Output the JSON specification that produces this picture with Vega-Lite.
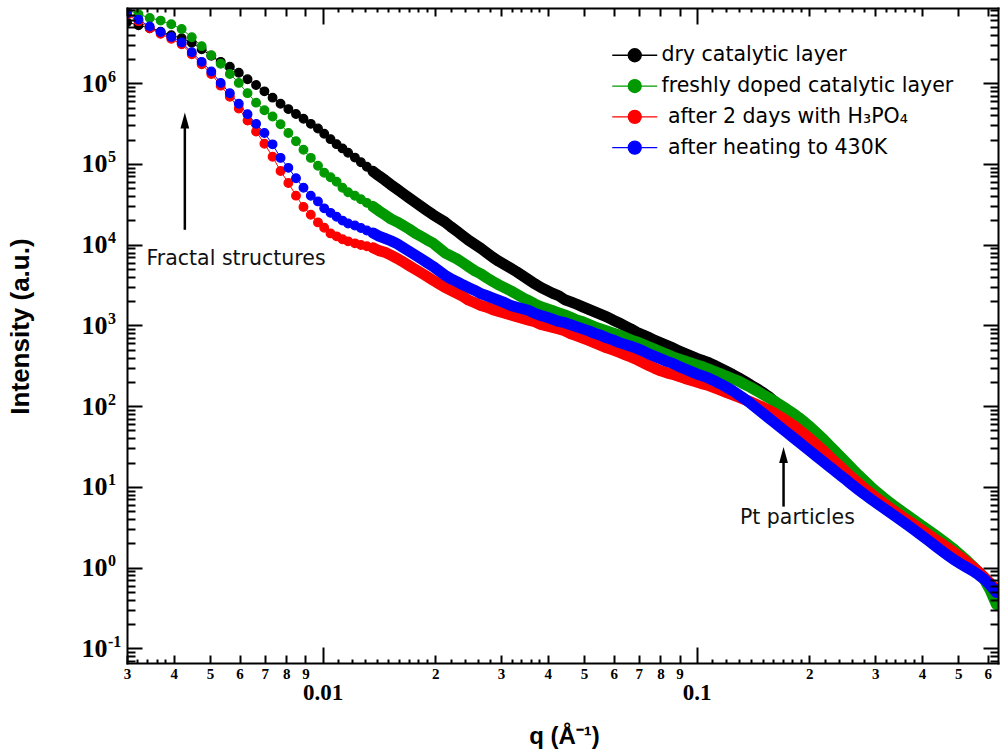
{
  "$schema": "https://vega.github.io/schema/vega-lite/v6.json",
  "width": 871,
  "height": 655,
  "autosize": {"type": "none"},
  "padding": {"left": 127, "top": 8, "right": 2, "bottom": 91},
  "background": "white",
  "config": {
    "view": {"stroke": null},
    "axis": {"grid": false, "domainColor": "black", "domainWidth": 2, "tickColor": "black", "tickWidth": 2, "labelColor": "black", "titleColor": "black", "labelFlush": false, "labelOverlap": false, "domainCap": "square"}
  },
  "datasets": {
    "saxs": [
      {"q":0.003,"a":5.70e6,"b":8.14e6,"c":7.06e6,"d":7.37e6},
      {"q":0.00322,"a":5.23e6,"b":7.16e6,"c":5.88e6,"d":6.14e6},
      {"q":0.00345,"a":4.80e6,"b":6.45e6,"c":4.80e6,"d":5.04e6},
      {"q":0.00369,"a":4.35e6,"b":5.97e6,"c":4.09e6,"d":4.30e6},
      {"q":0.00394,"a":3.93e6,"b":5.37e6,"c":3.55e6,"d":3.74e6},
      {"q":0.0042,"a":3.61e6,"b":4.70e6,"c":3.03e6,"d":3.19e6},
      {"q":0.00447,"a":3.18e6,"b":3.71e6,"c":2.29e6,"d":2.42e6},
      {"q":0.00475,"a":2.64e6,"b":2.88e6,"c":1.72e6,"d":1.84e6},
      {"q":0.00504,"a":2.19e6,"b":2.22e6,"c":1.30e6,"d":1.40e6},
      {"q":0.00534,"a":1.84e6,"b":1.74e6,"c":9.34e5,"d":1.01e6},
      {"q":0.00565,"a":1.60e6,"b":1.30e6,"c":6.80e5,"d":7.52e5},
      {"q":0.00597,"a":1.35e6,"b":1.01e6,"c":4.86e5,"d":5.57e5},
      {"q":0.0063,"a":1.12e6,"b":7.54e5,"c":3.46e5,"d":4.14e5},
      {"q":0.00664,"a":9.50e5,"b":5.75e5,"c":2.53e5,"d":3.14e5},
      {"q":0.00699,"a":7.94e5,"b":4.63e5,"c":1.78e5,"d":2.42e5},
      {"q":0.00735,"a":6.63e5,"b":3.87e5,"c":1.23e5,"d":1.75e5},
      {"q":0.00772,"a":5.57e5,"b":3.10e5,"c":8.17e4,"d":1.19e5},
      {"q":0.0081,"a":4.78e5,"b":2.42e5,"c":5.82e4,"d":8.95e4},
      {"q":0.00849,"a":4.16e5,"b":1.91e5,"c":4.05e4,"d":6.65e4},
      {"q":0.00889,"a":3.63e5,"b":1.50e5,"c":2.94e4,"d":5.07e4},
      {"q":0.0093,"a":3.14e5,"b":1.19e5,"c":2.35e4,"d":4.04e4},
      {"q":0.00972,"a":2.75e5,"b":9.50e4,"c":1.89e4,"d":3.44e4},
      {"q":0.0101,"a":2.37e5,"b":7.78e4,"c":1.62e4,"d":2.82e4},
      {"q":0.0105,"a":2.03e5,"b":6.84e4,"c":1.38e4,"d":2.48e4},
      {"q":0.0109,"a":1.76e5,"b":6.02e4,"c":1.27e4,"d":2.22e4},
      {"q":0.0113,"a":1.56e5,"b":5.07e4,"c":1.17e4,"d":1.99e4},
      {"q":0.0117,"a":1.38e5,"b":4.46e4,"c":1.10e4,"d":1.83e4},
      {"q":0.0122,"a":1.20e5,"b":4.04e4,"c":1.04e4,"d":1.73e4},
      {"q":0.01266,"a":1.05e5,"b":3.65e4,"c":9.91e3,"d":1.61e4},
      {"q":0.01313,"a":9.23e4,"b":3.30e4,"c":9.55e3,"d":1.50e4},
      {"q":0.01363,"a":8.12e4,"b":2.97e4,"c":9.15e3,"d":1.40e4},
      {"q":0.01414,"a":7.14e4,"b":2.63e4,"c":8.45e3,"d":1.28e4},
      {"q":0.01467,"a":6.32e4,"b":2.35e4,"c":8.05e3,"d":1.20e4},
      {"q":0.01522,"a":5.54e4,"b":2.09e4,"c":7.43e3,"d":1.12e4},
      {"q":0.0158,"a":4.89e4,"b":1.92e4,"c":6.78e3,"d":1.03e4},
      {"q":0.01639,"a":4.32e4,"b":1.74e4,"c":6.14e3,"d":9.26e3},
      {"q":0.01701,"a":3.82e4,"b":1.57e4,"c":5.54e3,"d":8.33e3},
      {"q":0.01765,"a":3.39e4,"b":1.40e4,"c":4.99e3,"d":7.49e3},
      {"q":0.01831,"a":3.00e4,"b":1.27e4,"c":4.51e3,"d":6.71e3},
      {"q":0.019,"a":2.66e4,"b":1.15e4,"c":4.06e3,"d":6.02e3},
      {"q":0.01971,"a":2.36e4,"b":1.05e4,"c":3.64e3,"d":5.40e3},
      {"q":0.02046,"a":2.12e4,"b":9.15e3,"c":3.28e3,"d":4.76e3},
      {"q":0.02123,"a":1.91e4,"b":7.94e3,"c":2.96e3,"d":4.19e3},
      {"q":0.02202,"a":1.67e4,"b":7.29e3,"c":2.72e3,"d":3.78e3},
      {"q":0.02285,"a":1.47e4,"b":6.69e3,"c":2.50e3,"d":3.49e3},
      {"q":0.02371,"a":1.29e4,"b":5.97e3,"c":2.29e3,"d":3.19e3},
      {"q":0.0246,"a":1.13e4,"b":5.32e3,"c":2.05e3,"d":2.94e3},
      {"q":0.02553,"a":1.01e4,"b":4.75e3,"c":1.91e3,"d":2.71e3},
      {"q":0.02649,"a":9.02e3,"b":4.36e3,"c":1.77e3,"d":2.48e3},
      {"q":0.02748,"a":7.94e3,"b":3.89e3,"c":1.68e3,"d":2.33e3},
      {"q":0.02852,"a":6.98e3,"b":3.50e3,"c":1.57e3,"d":2.18e3},
      {"q":0.02959,"a":6.23e3,"b":3.18e3,"c":1.49e3,"d":2.04e3},
      {"q":0.0307,"a":5.63e3,"b":2.92e3,"c":1.42e3,"d":1.91e3},
      {"q":0.03186,"a":5.10e3,"b":2.68e3,"c":1.35e3,"d":1.77e3},
      {"q":0.03305,"a":4.61e3,"b":2.43e3,"c":1.28e3,"d":1.68e3},
      {"q":0.0343,"a":4.12e3,"b":2.20e3,"c":1.22e3,"d":1.61e3},
      {"q":0.03559,"a":3.67e3,"b":2.02e3,"c":1.16e3,"d":1.53e3},
      {"q":0.03692,"a":3.28e3,"b":1.85e3,"c":1.11e3,"d":1.41e3},
      {"q":0.03831,"a":2.96e3,"b":1.71e3,"c":1.03e3,"d":1.33e3},
      {"q":0.03975,"a":2.72e3,"b":1.61e3,"c":988,"d":1.26e3},
      {"q":0.04125,"a":2.50e3,"b":1.52e3,"c":944,"d":1.19e3},
      {"q":0.0428,"a":2.33e3,"b":1.43e3,"c":902,"d":1.12e3},
      {"q":0.04441,"a":2.08e3,"b":1.35e3,"c":857,"d":1.08e3},
      {"q":0.04608,"a":1.96e3,"b":1.26e3,"c":787,"d":1.02e3},
      {"q":0.04781,"a":1.83e3,"b":1.17e3,"c":743,"d":960},
      {"q":0.04961,"a":1.70e3,"b":1.11e3,"c":696,"d":907},
      {"q":0.05147,"a":1.58e3,"b":1.03e3,"c":652,"d":857},
      {"q":0.05341,"a":1.47e3,"b":960,"c":608,"d":798},
      {"q":0.05542,"a":1.37e3,"b":907,"c":567,"d":754},
      {"q":0.0575,"a":1.28e3,"b":857,"c":528,"d":702},
      {"q":0.05966,"a":1.17e3,"b":809,"c":498,"d":663},
      {"q":0.0619,"a":1.08e3,"b":764,"c":467,"d":617},
      {"q":0.06423,"a":988,"b":712,"c":436,"d":583},
      {"q":0.06665,"a":907,"b":663,"c":408,"d":551},
      {"q":0.06915,"a":821,"b":626,"c":378,"d":520},
      {"q":0.07175,"a":764,"b":583,"c":347,"d":484},
      {"q":0.07445,"a":712,"b":543,"c":318,"d":445},
      {"q":0.07725,"a":653,"b":505,"c":294,"d":414},
      {"q":0.08016,"a":608,"b":471,"c":274,"d":385},
      {"q":0.08317,"a":567,"b":438,"c":259,"d":359},
      {"q":0.0863,"a":528,"b":408,"c":248,"d":339},
      {"q":0.08954,"a":484,"b":385,"c":234,"d":311},
      {"q":0.09291,"a":451,"b":364,"c":221,"d":290},
      {"q":0.0964,"a":420,"b":344,"c":210,"d":270},
      {"q":0.1,"a":391,"b":325,"c":199,"d":251},
      {"q":0.1038,"a":369,"b":307,"c":189,"d":237},
      {"q":0.1077,"a":347,"b":288,"c":180,"d":222},
      {"q":0.1117,"a":319,"b":269,"c":169,"d":205},
      {"q":0.1159,"a":293,"b":251,"c":158,"d":188},
      {"q":0.1203,"a":269,"b":234,"c":147,"d":171},
      {"q":0.1248,"a":247,"b":218,"c":138,"d":155},
      {"q":0.1295,"a":225,"b":204,"c":129,"d":138},
      {"q":0.1343,"a":204,"b":186,"c":121,"d":123},
      {"q":0.1394,"a":183,"b":171,"c":113,"d":108},
      {"q":0.1446,"a":166,"b":155,"c":105,"d":94.1},
      {"q":0.1501,"a":148,"b":140,"c":97.4,"d":82.1},
      {"q":0.1557,"a":132,"b":127,"c":89.4,"d":71.6},
      {"q":0.1616,"a":114,"b":115,"c":81.4,"d":62.4},
      {"q":0.1676,"a":99,"b":103,"c":73.6,"d":54.4},
      {"q":0.1739,"a":86,"b":92.3,"c":65.9,"d":47.5},
      {"q":0.1805,"a":75.5,"b":82.1,"c":58.5,"d":41.4},
      {"q":0.1873,"a":66.8,"b":72.6,"c":51.4,"d":36.1},
      {"q":0.1943,"a":58.4,"b":63.5,"c":44.8,"d":31.5},
      {"q":0.2016,"a":50.5,"b":54.9,"c":38.9,"d":27.4},
      {"q":0.2092,"a":43.1,"b":46.9,"c":33.4,"d":23.9},
      {"q":0.2171,"a":36.6,"b":39.8,"c":28.6,"d":20.9},
      {"q":0.2252,"a":30.8,"b":33.5,"c":24.3,"d":18.2},
      {"q":0.2337,"a":25.9,"b":28.2,"c":20.7,"d":15.9},
      {"q":0.2425,"a":21.7,"b":23.6,"c":17.7,"d":13.8},
      {"q":0.2516,"a":18.2,"b":19.8,"c":15.1,"d":12.1},
      {"q":0.261,"a":15.3,"b":16.6,"c":12.9,"d":10.5},
      {"q":0.2708,"a":12.9,"b":14.0,"c":11.1,"d":9.20},
      {"q":0.281,"a":10.9,"b":11.9,"c":9.60,"d":8.07},
      {"q":0.2916,"a":9.29,"b":10.1,"c":8.35,"d":7.12},
      {"q":0.3025,"a":8.0,"b":8.69,"c":7.30,"d":6.30},
      {"q":0.3139,"a":6.94,"b":7.54,"c":6.42,"d":5.58},
      {"q":0.3257,"a":6.06,"b":6.59,"c":5.66,"d":4.95},
      {"q":0.338,"a":5.32,"b":5.78,"c":5.01,"d":4.39},
      {"q":0.3507,"a":4.69,"b":5.10,"c":4.44,"d":3.90},
      {"q":0.3639,"a":4.15,"b":4.51,"c":3.94,"d":3.45},
      {"q":0.3775,"a":3.68,"b":4.00,"c":3.51,"d":3.04},
      {"q":0.3917,"a":3.27,"b":3.55,"c":3.11,"d":2.67},
      {"q":0.4064,"a":2.90,"b":3.15,"c":2.78,"d":2.35},
      {"q":0.4217,"a":2.56,"b":2.78,"c":2.47,"d":2.07},
      {"q":0.4376,"a":2.26,"b":2.46,"c":2.19,"d":1.81},
      {"q":0.454,"a":2.0,"b":2.17,"c":1.95,"d":1.59},
      {"q":0.4711,"a":1.76,"b":1.91,"c":1.73,"d":1.40},
      {"q":0.4888,"a":1.54,"b":1.67,"c":1.53,"d":1.24},
      {"q":0.5072,"a":1.32,"b":1.44,"c":1.35,"d":1.12},
      {"q":0.5262,"a":1.14,"b":1.24,"c":1.18,"d":1.01},
      {"q":0.546,"a":1.0,"b":1.05,"c":1.03,"d":0.915},
      {"q":0.5666,"a":0.85,"b":0.882,"c":0.889,"d":0.816},
      {"q":0.5879,"a":0.72,"b":0.706,"c":0.758,"d":0.716},
      {"q":0.61,"a":0.58,"b":0.518,"c":0.639,"d":0.603},
      {"q":0.6329,"a":0.47,"b":0.350,"c":0.529,"d":0.491}
    ],
    "notes": [
      {"q": 0.003383, "I": 6690, "label": "Fractal structures"},
      {"q": 0.1305, "I": 4.13, "label": "Pt particles"}
    ],
    "arrows": [
      {"q": 0.004283, "lo": 1.53e4, "hi": 3.46e5},
      {"q": 0.1707, "lo": 5.70, "hi": 24.9}
    ]
  },
  "resolve": {"axis": {"x": "independent", "y": "independent"}},
  "encoding": {
    "x": {"field": "q", "type": "quantitative", "scale": {"type": "log", "domain": [0.003, 0.639], "nice": false}, "axis": null},
    "y": {"field": "I", "type": "quantitative", "scale": {"type": "log", "domain": [0.0659, 8.55e6], "nice": false}, "axis": null}
  },
  "layer": [
    {
      "data": {"name": "saxs"},
      "transform": [{"fold": ["a", "b", "c", "d"], "as": ["s", "I"]}],
      "mark": {"type": "line", "strokeWidth": 1, "clip": true},
      "encoding": {
        "x": {"field": "q", "type": "quantitative", "scale": {"type": "log", "domain": [0.003, 0.639], "nice": false},
          "axis": {"orient": "bottom", "labels": false, "title": null, "domain": true, "ticks": true, "zindex": 3,
            "values": [0.003,0.0032,0.0034,0.0036,0.0038,0.004,0.005,0.006,0.007,0.008,0.009,0.01,0.011,0.012,0.013,0.014,0.015,0.016,0.017,0.018,0.019,0.02,0.022,0.024,0.026,0.028,0.03,0.032,0.034,0.036,0.038,0.04,0.05,0.06,0.07,0.08,0.09,0.1,0.11,0.12,0.13,0.14,0.15,0.16,0.17,0.18,0.19,0.2,0.22,0.24,0.26,0.28,0.3,0.32,0.34,0.36,0.38,0.4,0.5,0.6],
            "tickSize": {"condition": [
              {"test": "abs(log(datum.value)/LN10-round(log(datum.value)/LN10))<0.001", "value": -16},
              {"test": "abs(datum.value*pow(10,-floor(log(datum.value)/LN10+0.001))-round(datum.value*pow(10,-floor(log(datum.value)/LN10+0.001))))<0.01", "value": -8}
            ], "value": -4}}},
        "y": {"field": "I", "type": "quantitative", "scale": {"type": "log", "domain": [0.0659, 8.55e6], "nice": false},
          "axis": {"orient": "left", "labels": false, "title": null, "domain": true, "ticks": true, "zindex": 3,
            "values": [0.07,0.08,0.09,0.1,0.2,0.3,0.4,0.5,0.6,0.7,0.8,0.9,1,2,3,4,5,6,7,8,9,10,20,30,40,50,60,70,80,90,100,200,300,400,500,600,700,800,900,1000,2000,3000,4000,5000,6000,7000,8000,9000,10000,20000,30000,40000,50000,60000,70000,80000,90000,100000,200000,300000,400000,500000,600000,700000,800000,900000,1000000,2000000,3000000,4000000,5000000,6000000,7000000,8000000],
            "tickSize": {"condition": {"test": "abs(log(datum.value)/LN10-round(log(datum.value)/LN10))<0.001", "value": -15}, "value": -8}}},
        "stroke": {"field": "s", "type": "nominal", "scale": {"domain": ["a", "b", "c", "d"], "range": ["#000000", "#009a00", "#ff0000", "#0000ff"]}}
      }
    },
    {
      "data": {"name": "saxs"},
      "transform": [{"fold": ["a"], "as": ["s", "I"]}, {"filter": "datum.q >= 0.0135"}],
      "mark": {"type": "line", "strokeWidth": 11, "strokeCap": "round", "strokeJoin": "round", "color": "#000000", "clip": true}
    },
    {
      "data": {"name": "saxs"},
      "transform": [{"fold": ["a"], "as": ["s", "I"]}],
      "mark": {"type": "point", "filled": true, "size": 74, "opacity": 1, "strokeWidth": 1.3, "clip": true},
      "encoding": {
        "x": {"field": "q", "type": "quantitative", "scale": {"type": "log", "domain": [0.003, 0.639], "nice": false},
          "axis": {"orient": "top", "labels": false, "title": null, "domain": true, "ticks": true, "zindex": 3,
            "values": [0.003,0.0032,0.0034,0.0036,0.0038,0.004,0.005,0.006,0.007,0.008,0.009,0.01,0.011,0.012,0.013,0.014,0.015,0.016,0.017,0.018,0.019,0.02,0.022,0.024,0.026,0.028,0.03,0.032,0.034,0.036,0.038,0.04,0.05,0.06,0.07,0.08,0.09,0.1,0.11,0.12,0.13,0.14,0.15,0.16,0.17,0.18,0.19,0.2,0.22,0.24,0.26,0.28,0.3,0.32,0.34,0.36,0.38,0.4,0.5,0.6],
            "tickSize": {"condition": [
              {"test": "abs(log(datum.value)/LN10-round(log(datum.value)/LN10))<0.001", "value": -16},
              {"test": "abs(datum.value*pow(10,-floor(log(datum.value)/LN10+0.001))-round(datum.value*pow(10,-floor(log(datum.value)/LN10+0.001))))<0.01", "value": -8}
            ], "value": -4}}},
        "y": {"field": "I", "type": "quantitative", "scale": {"type": "log", "domain": [0.0659, 8.55e6], "nice": false},
          "axis": {"orient": "right", "labels": false, "title": null, "domain": true, "ticks": true, "zindex": 3,
            "values": [0.07,0.08,0.09,0.1,0.2,0.3,0.4,0.5,0.6,0.7,0.8,0.9,1,2,3,4,5,6,7,8,9,10,20,30,40,50,60,70,80,90,100,200,300,400,500,600,700,800,900,1000,2000,3000,4000,5000,6000,7000,8000,9000,10000,20000,30000,40000,50000,60000,70000,80000,90000,100000,200000,300000,400000,500000,600000,700000,800000,900000,1000000,2000000,3000000,4000000,5000000,6000000,7000000,8000000],
            "tickSize": {"condition": {"test": "abs(log(datum.value)/LN10-round(log(datum.value)/LN10))<0.001", "value": -15}, "value": -8}}},
        "fill": {"field": "s", "type": "nominal", "scale": {"domain": ["a", "b", "c", "d"], "range": ["#000000", "#009a00", "#ff0000", "#0000ff"]},
          "legend": {"orient": "none", "legendX": 497.5, "legendY": 37, "title": null, "padding": 0,
            "symbolType": "M-3.46,0H3.46M-1,0A1,1,0,1,1,1,0A1,1,0,1,1,-1,0Z", "symbolSize": 169, "symbolStrokeWidth": 1.3,
            "labelFont": "DejaVu Sans", "labelFontSize": 20.5, "labelColor": "black", "labelOffset": 16.5, "labelLimit": 400, "rowPadding": 9.8,
            "labelExpr": "datum.label == 'a' ? 'dry catalytic layer' : datum.label == 'b' ? 'freshly doped catalytic layer' : datum.label == 'c' ? '\u200b\u00a0after 2 days with H₃PO₄' : '\u200b\u00a0after heating to 430K'"}},
        "stroke": {"field": "s", "type": "nominal", "scale": {"domain": ["a", "b", "c", "d"], "range": ["#000000", "#009a00", "#ff0000", "#0000ff"]},
          "legend": {"orient": "none", "legendX": 497.5, "legendY": 37, "title": null, "padding": 0,
            "symbolType": "M-3.46,0H3.46M-1,0A1,1,0,1,1,1,0A1,1,0,1,1,-1,0Z", "symbolSize": 169, "symbolStrokeWidth": 1.3,
            "labelFont": "DejaVu Sans", "labelFontSize": 20.5, "labelColor": "black", "labelOffset": 16.5, "labelLimit": 400, "rowPadding": 9.8,
            "labelExpr": "datum.label == 'a' ? 'dry catalytic layer' : datum.label == 'b' ? 'freshly doped catalytic layer' : datum.label == 'c' ? '\u200b\u00a0after 2 days with H₃PO₄' : '\u200b\u00a0after heating to 430K'"}}
      }
    },
    {
      "data": {"name": "saxs"},
      "transform": [{"fold": ["b"], "as": ["s", "I"]}, {"filter": "datum.q >= 0.0135"}],
      "mark": {"type": "line", "strokeWidth": 11, "strokeCap": "round", "strokeJoin": "round", "color": "#009a00", "clip": true}
    },
    {
      "data": {"name": "saxs"},
      "transform": [{"fold": ["b"], "as": ["s", "I"]}],
      "mark": {"type": "point", "filled": true, "size": 74, "opacity": 1, "fill": "#009a00", "stroke": "#009a00", "strokeWidth": 1.3, "clip": true}
    },
    {
      "data": {"name": "saxs"},
      "transform": [{"fold": ["c"], "as": ["s", "I"]}, {"filter": "datum.q >= 0.0135"}],
      "mark": {"type": "line", "strokeWidth": 11, "strokeCap": "round", "strokeJoin": "round", "color": "#ff0000", "clip": true}
    },
    {
      "data": {"name": "saxs"},
      "transform": [{"fold": ["c"], "as": ["s", "I"]}],
      "mark": {"type": "point", "filled": true, "size": 74, "opacity": 1, "fill": "#ff0000", "stroke": "#ff0000", "strokeWidth": 1.3, "clip": true}
    },
    {
      "data": {"name": "saxs"},
      "transform": [{"fold": ["d"], "as": ["s", "I"]}, {"filter": "datum.q >= 0.0135"}],
      "mark": {"type": "line", "strokeWidth": 11, "strokeCap": "round", "strokeJoin": "round", "color": "#0000ff", "clip": true}
    },
    {
      "data": {"name": "saxs"},
      "transform": [{"fold": ["d"], "as": ["s", "I"]}],
      "mark": {"type": "point", "filled": true, "size": 74, "opacity": 1, "fill": "#0000ff", "stroke": "#0000ff", "strokeWidth": 1.3, "clip": true}
    },
    {
      "data": {"name": "notes"},
      "mark": {"type": "text", "align": "left", "baseline": "middle", "font": "DejaVu Sans", "fontSize": 20.5, "color": "#111111"},
      "encoding": {
        "x": {"field": "q", "type": "quantitative", "scale": {"type": "log", "domain": [0.003, 0.639], "nice": false},
          "axis": {"orient": "bottom", "title": null, "domain": false, "ticks": false, "tickSize": 0, "labelPadding": 3,
            "values": [0.003,0.004,0.005,0.006,0.007,0.008,0.009,0.02,0.03,0.04,0.05,0.06,0.07,0.08,0.09,0.2,0.3,0.4,0.5,0.6],
            "labelExpr": "format(datum.value*pow(10,-floor(log(datum.value)/LN10+0.001)), '.0f')",
            "labelFont": "Liberation Serif", "labelFontWeight": "bold", "labelFontSize": 15}},
        "y": {"field": "I", "type": "quantitative", "scale": {"type": "log", "domain": [0.0659, 8.55e6], "nice": false},
          "axis": {"orient": "left", "domain": false, "ticks": false, "tickSize": 0, "labelPadding": 20, "labelAlign": "right", "labelBaseline": "middle",
            "values": [0.1, 1, 10, 100, 1000, 10000, 100000, 1000000],
            "labelExpr": "'10'", "labelFont": "Liberation Serif", "labelFontWeight": "bold", "labelFontSize": 26,
            "title": "Intensity (a.u.)", "titleFont": "Liberation Sans", "titleFontWeight": "bold", "titleFontSize": 26,
            "titleAngle": -90, "titleX": -94, "titleY": 318, "titleBaseline": "bottom", "titleAlign": "center"}},
        "text": {"field": "label"}
      }
    },
    {
      "data": {"name": "arrows"},
      "mark": {"type": "rule", "strokeWidth": 2.5, "color": "black"},
      "encoding": {
        "x": {"field": "q", "type": "quantitative", "scale": {"type": "log", "domain": [0.003, 0.639], "nice": false},
          "axis": {"orient": "bottom", "domain": false, "ticks": false, "tickSize": 0, "labelPadding": 18,
            "values": [0.01, 0.1],
            "labelExpr": "datum.value < 0.05 ? '0.01' : '0.1'",
            "labelFont": "Liberation Serif", "labelFontWeight": "bold", "labelFontSize": 23,
            "title": "q (Å⁻¹)", "titleFont": "Liberation Sans", "titleFontWeight": "bold", "titleFontSize": 24,
            "titleX": 437, "titleY": 80, "titleBaseline": "alphabetic", "titleAlign": "center"}},
        "y": {"field": "lo", "type": "quantitative", "scale": {"type": "log", "domain": [0.0659, 8.55e6], "nice": false},
          "axis": {"orient": "left", "domain": false, "ticks": false, "tickSize": 0, "labelPadding": 19.5, "labelAlign": "left", "labelBaseline": "middle", "labelOffset": -7,
            "values": [0.1, 1, 10, 100, 1000, 10000, 100000, 1000000],
            "labelExpr": "['-1','0','1','2','3','4','5','6'][round(log(datum.value)/LN10)+1]",
            "labelFont": "Liberation Serif", "labelFontWeight": "bold", "labelFontSize": 16, "title": null}},
        "y2": {"field": "hi"}
      }
    },
    {
      "data": {"name": "arrows"},
      "mark": {"type": "point", "shape": "M0,-1L0.55,1L-0.55,1Z", "size": 256, "filled": true, "opacity": 1, "color": "black", "strokeWidth": 0},
      "encoding": {
        "y": {"field": "hi", "type": "quantitative", "scale": {"type": "log", "domain": [0.0659, 8.55e6], "nice": false}, "axis": null}
      }
    }
  ]
}
